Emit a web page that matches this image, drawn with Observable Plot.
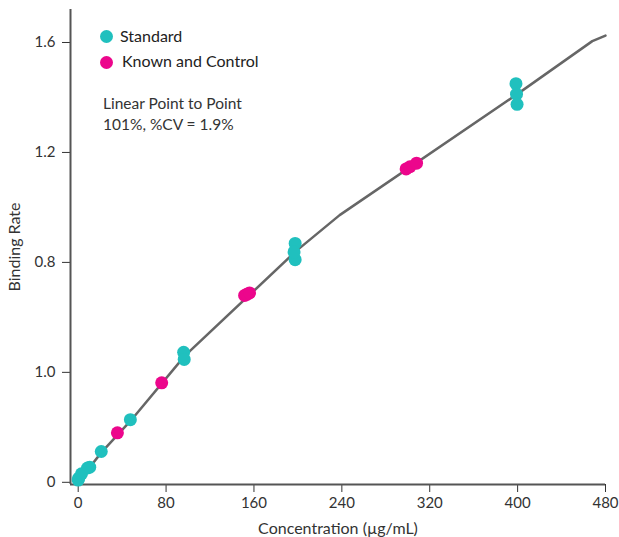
<!DOCTYPE html>
<html>
<head>
<meta charset="utf-8">
<script src="https://cdn.jsdelivr.net/npm/d3@7"></script>
<script src="https://cdn.jsdelivr.net/npm/@observablehq/plot@0.6"></script>
<style>
  html, body { margin: 0; padding: 0; background: #fff; }
  #wrap { position: relative; width: 619px; height: 537px; font-family: Lato, "Noto Sans", sans-serif; color: #222; }
  .leg { position: absolute; font-size: 16px; line-height: 1; white-space: nowrap; }
  .sw { position: absolute; width: 13px; height: 13px; border-radius: 50%; }
  .note { position: absolute; left: 103px; top: 93px; font-size: 15.5px; line-height: 21px; color: #333; white-space: nowrap; }
  #wrap svg g[aria-label="x-axis label"] text,
  #wrap svg g[aria-label="y-axis label"] text { font-size: 16px; }
</style>
</head>
<body>
<div id="wrap"></div>
<script>
// ---- data ----
const seriesNames = ["Standard", "Known and Control"];
const seriesColors = ["#20c0be", "#ec068c"];

const standardX = [0, 0.5, 3, 8.5, 10.5, 21, 47.5, 96, 96.5, 197.5, 197.5, 196.5, 398.5, 399, 399.5];
const standardY = [0.008, 0.015, 0.031, 0.052, 0.055, 0.112, 0.228, 0.473, 0.447, 0.869, 0.810, 0.838, 1.450, 1.412, 1.375];

const controlX = [35.7, 76, 151.5, 153.5, 156, 298.5, 302, 308];
const controlY = [0.180, 0.362, 0.680, 0.684, 0.689, 1.140, 1.148, 1.161];

const curveX = [0, 10, 21, 48, 97, 198, 238, 400, 468, 480];
const curveY = [0.005, 0.052, 0.108, 0.225, 0.46, 0.84, 0.972, 1.413, 1.605, 1.625];

const xTicks = [0, 80, 160, 240, 320, 400, 480];
const yTicks = [0, 0.4, 0.8, 1.2, 1.6];
const yTickLabels = ["0", "1.0", "0.8", "1.2", "1.6"];

const xDomain = [-7, 480];
const yDomain = [-0.008, 1.72];

const noteLines = ["Linear Point to Point", "101%, %CV = 1.9%"];

// ---- build tables ----
const points = [
  ...standardX.map((x, i) => ({x, y: standardY[i], s: seriesNames[0]})),
  ...controlX.map((x, i) => ({x, y: controlY[i], s: seriesNames[1]}))
];
const curve = curveX.map((x, i) => ({x, y: curveY[i]}));

const chart = Plot.plot({
  width: 619,
  height: 537,
  marginLeft: 70,
  marginRight: 14,
  marginTop: 9,
  marginBottom: 53,
  style: {fontFamily: "Lato, 'Noto Sans', sans-serif", fontSize: "15px", color: "#333", background: "#fff"},
  x: {
    domain: xDomain,
    ticks: xTicks,
    tickSize: 8,
    tickPadding: 5,
    label: "Concentration (µg/mL)",
    labelArrow: "none",
    labelAnchor: "center",
    labelOffset: 49
  },
  y: {
    domain: yDomain,
    ticks: yTicks,
    tickSize: 8,
    tickPadding: 7,
    tickFormat: d => yTickLabels[yTicks.indexOf(d)] ?? "",
    label: "Binding Rate",
    labelArrow: "none",
    labelAnchor: "center",
    labelOffset: 62
  },
  color: {domain: seriesNames, range: seriesColors},
  marks: [
    Plot.ruleY([yDomain[0]], {stroke: "#555", strokeWidth: 2}),
    Plot.ruleX([xDomain[0]], {stroke: "#555", strokeWidth: 2}),
    Plot.line(curve, {x: "x", y: "y", stroke: "#666", strokeWidth: 2.5}),
    Plot.dot(points, {x: "x", y: "y", fill: "s", r: 6.5, stroke: "none"})
  ]
});

const wrap = document.getElementById("wrap");
wrap.appendChild(chart);

// legend
const legPos = [{dot: [100, 30], text: [120, 28]}, {dot: [100, 56], text: [122, 53]}];
seriesNames.forEach((name, i) => {
  const sw = document.createElement("div");
  sw.className = "sw";
  sw.style.left = legPos[i].dot[0] + "px";
  sw.style.top = legPos[i].dot[1] + "px";
  sw.style.background = seriesColors[i];
  wrap.appendChild(sw);
  const t = document.createElement("div");
  t.className = "leg";
  t.style.left = legPos[i].text[0] + "px";
  t.style.top = legPos[i].text[1] + "px";
  t.textContent = name;
  wrap.appendChild(t);
});
const note = document.createElement("div");
note.className = "note";
note.innerHTML = noteLines.map(s => s.replace(/&/g, "&amp;")).join("<br>");
wrap.appendChild(note);
</script>
</body>
</html>
